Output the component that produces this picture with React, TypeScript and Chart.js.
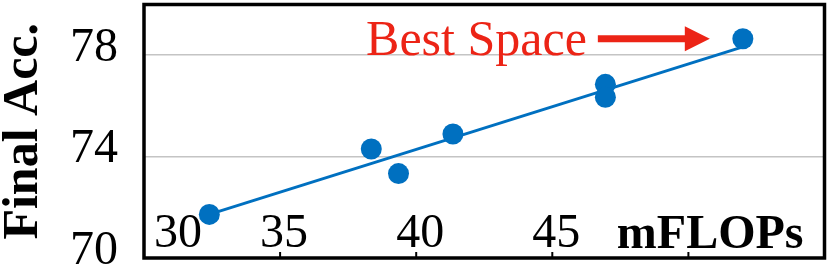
import React, { useEffect, useRef } from "react";
import { Chart, registerables } from "chart.js";

Chart.register(...registerables);

// Data
const flops = [32.4, 38.35, 39.35, 41.35, 46.95, 46.95, 52.0];
const acc = [71.72, 74.3, 73.33, 74.89, 76.85, 76.34, 78.65];
const trendFlops = [32.4, 52.0];
const trendAcc = [71.72, 78.33];
const xTickValues = [30, 35, 40, 45, 50];
const xTickLabels = ["30", "35", "40", "45"];
const yTickLabels = [70, 74, 78];
const xTitle = "mFLOPs";
const yTitle = "Final Acc.";
const annotationText = "Best Space";

const BLUE = "#0070C0";
const RED = "#EC2416";
const SERIF = '"Liberation Serif", "Times New Roman", serif';

const decorPlugin = {
  id: "decor",
  afterDraw(chart: any) {
    const { ctx, chartArea, scales } = chart;
    const xs = scales.x;
    const ys = scales.y;
    ctx.save();
    // plot border
    ctx.strokeStyle = "#000";
    ctx.lineWidth = 3.5;
    ctx.strokeRect(chartArea.left, chartArea.top, chartArea.right - chartArea.left, chartArea.bottom - chartArea.top);
    // inner tick marks on the bottom axis
    ctx.lineWidth = 2;
    xTickValues.forEach((v) => {
      const px = xs.getPixelForValue(v);
      if (px <= chartArea.left + 2) return;
      ctx.beginPath();
      ctx.moveTo(px, chartArea.bottom);
      ctx.lineTo(px, chartArea.bottom - 6);
      ctx.stroke();
    });
    // x tick labels drawn inside the plot
    ctx.fillStyle = "#000";
    ctx.font = `48px ${SERIF}`;
    ctx.textBaseline = "alphabetic";
    const baseY = chartArea.bottom - 11;
    xTickLabels.forEach((lab, i) => {
      const v = Number(lab);
      let px = xs.getPixelForValue(v) + 4;
      if (i === 0) px = chartArea.left + 34;
      ctx.textAlign = "center";
      ctx.fillText(lab, px, baseY);
    });
    // x title
    ctx.font = `bold 48px ${SERIF}`;
    ctx.textAlign = "right";
    ctx.fillText(xTitle, chartArea.right - 21, baseY + 1);
    // annotation pointing to the best point
    const last = flops.length - 1;
    const bx = xs.getPixelForValue(flops[last]);
    const by = ys.getPixelForValue(acc[last]);
    const tipX = bx - 33;
    const headLen = 25;
    const shaftStart = bx - 145;
    ctx.strokeStyle = RED;
    ctx.fillStyle = RED;
    ctx.lineWidth = 7;
    ctx.beginPath();
    ctx.moveTo(shaftStart, by);
    ctx.lineTo(tipX - headLen + 2, by);
    ctx.stroke();
    ctx.beginPath();
    ctx.moveTo(tipX, by);
    ctx.lineTo(tipX - headLen, by - 12.5);
    ctx.lineTo(tipX - headLen, by + 12.5);
    ctx.closePath();
    ctx.fill();
    ctx.font = `50px ${SERIF}`;
    ctx.textAlign = "right";
    ctx.fillText(annotationText, shaftStart - 11, by + 16);
    ctx.restore();
  },
};

export default function App() {
  const ref = useRef<HTMLCanvasElement | null>(null);
  useEffect(() => {
    document.body.style.margin = "0";
    if (!ref.current) return;
    const chart = new Chart(ref.current, {
      type: "scatter",
      data: {
        datasets: [
          {
            label: "points",
            data: flops.map((x, i) => ({ x, y: acc[i] })),
            backgroundColor: BLUE,
            borderWidth: 0,
            pointRadius: 10.5,
            showLine: false,
          },
          {
            label: "trend",
            data: trendFlops.map((x, i) => ({ x, y: trendAcc[i] })),
            borderColor: BLUE,
            borderWidth: 3,
            pointRadius: 0,
            showLine: true,
            fill: false,
          },
        ],
      },
      options: {
        responsive: false,
        animation: false,
        layout: { autoPadding: false, padding: { left: 0, top: 4.5, right: 5.5, bottom: 0 } },
        plugins: { legend: { display: false }, tooltip: { enabled: false } },
        scales: {
          x: {
            type: "linear",
            min: 30,
            max: 55,
            ticks: { display: false, stepSize: 5 },
            grid: { display: false },
            border: { display: false },
            afterFit: (s: any) => {
              s.height = 11;
              s.paddingLeft = 0;
              s.paddingRight = 0;
            },
          },
          y: {
            type: "linear",
            min: 70,
            max: 80,
            ticks: {
              stepSize: 2,
              padding: 26,
              labelOffset: -7,
              color: "#000",
              font: { family: SERIF, size: 48 },
              callback: (v: any) => (yTickLabels.includes(Number(v)) ? String(v) : ""),
            },
            grid: { color: "#C4C4C4", lineWidth: 1.5, drawTicks: false },
            border: { display: false },
            title: {
              display: true,
              text: yTitle,
              color: "#000",
              padding: 0,
              font: { family: SERIF, size: 50, weight: "bold", lineHeight: 0.96 },
            },
            afterFit: (s: any) => {
              s.width = 144;
              s.paddingTop = 0;
              s.paddingBottom = 0;
            },
          },
        },
      },
      plugins: [decorPlugin],
    });
    return () => chart.destroy();
  }, []);
  return (
    <div style={{ width: 830, height: 269 }}>
      <canvas ref={ref} width={830} height={269} style={{ display: "block" }} />
    </div>
  );
}
